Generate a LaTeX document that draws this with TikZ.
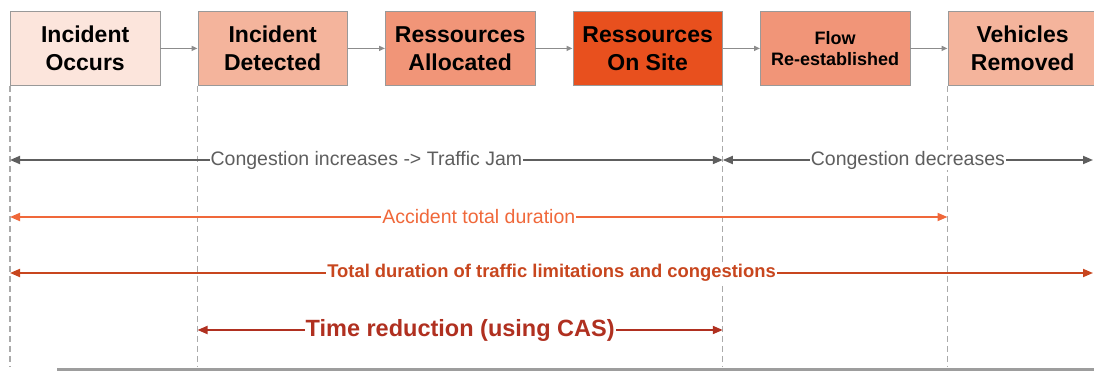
\documentclass[tikz,border=0pt]{standalone}
\usepackage{fontspec}
\setmainfont{Liberation Sans}
\usetikzlibrary{positioning,arrows.meta}

\definecolor{occfill}{HTML}{FCE5DC}
\definecolor{detfill}{HTML}{F4B49C}
\definecolor{allfill}{HTML}{F19578}
\definecolor{sitefill}{HTML}{E8501E}
\definecolor{boxline}{HTML}{999999}
\definecolor{linkgray}{HTML}{8C8C8C}
\definecolor{dashgray}{HTML}{AAAAAA}
\definecolor{congray}{HTML}{5E5E5E}
\definecolor{accorange}{HTML}{F0683A}
\definecolor{totred}{HTML}{C8461E}
\definecolor{redred}{HTML}{B03020}

\tikzset{
  stage/.style={draw=boxline, line width=.8pt, minimum width=149.5pt,
    minimum height=74pt, inner sep=0pt, align=center,
    font=\fontsize{23}{28}\selectfont\bfseries},
  link/.style={draw=linkgray, line width=1.4pt,
    -{Triangle[length=6pt,width=5pt]}},
  guide/.style={draw=dashgray, line width=1.3pt, dash pattern=on 6pt off 4pt},
  span/.style={line width=1.8pt,
    {Triangle[length=10pt,width=8pt]}-{Triangle[length=10pt,width=8pt]}},
  spantext/.style={fill=white, inner sep=1pt}
}

\begin{document}
\begin{tikzpicture}[x=1pt,y=-1pt,node distance=37.2pt]
\useasboundingbox (0,0) rectangle (1094,371);

% the six stages
\node (occ) [stage,fill=occfill,anchor=north west] at (10,11) {Incident\\Occurs};
\node (det) [stage,fill=detfill,right=of occ] {Incident\\Detected};
\node (all) [stage,fill=allfill,right=of det] {Ressources\\Allocated};
\node (site) [stage,fill=sitefill,right=of all] {Ressources\\On Site};
\node (flow) [stage,fill=allfill,right=of site,
  font=\fontsize{18}{21}\selectfont\bfseries] {Flow\\Re-established};
\node (veh) [stage,fill=detfill,right=of flow] {Vehicles\\Removed};

\draw[link] (occ) -- (det);
\draw[link] (det) -- (all);
\draw[link] (all) -- (site);
\draw[link] (site) -- (flow);
\draw[link] (flow) -- (veh);

% rows and guide ends
\coordinate (congrow) at (0,160);
\coordinate (accrow) at (0,217);
\coordinate (totrow) at (0,273);
\coordinate (redrow) at (0,330);
\coordinate (foot) at (0,366);
\coordinate (edge) at (1093,0);

\draw[guide] (occ.south west) -- (occ.south west |- foot);
\draw[guide] (det.south west) -- (det.south west |- foot);
\draw[guide] (site.south east) -- (site.south east |- foot);
\draw[guide] (veh.south west) -- (veh.south west |- foot);

% durations
\draw[span,congray] (occ.south west |- congrow) -- (site.south east |- congrow)
  node [spantext,midway,font=\fontsize{19.5}{22}\selectfont] {Congestion increases -> Traffic Jam};
\draw[span,congray] (site.south east |- congrow) -- (edge |- congrow)
  node [spantext,midway,font=\fontsize{19.5}{22}\selectfont] {Congestion decreases};
\draw[span,accorange] (occ.south west |- accrow) -- (veh.south west |- accrow)
  node [spantext,midway,font=\fontsize{19.5}{22}\selectfont] {Accident total duration};
\draw[span,totred] (occ.south west |- totrow) -- (edge |- totrow)
  node [spantext,midway,font=\fontsize{18.4}{22}\selectfont\bfseries] {Total duration of traffic limitations and congestions};
\draw[span,redred] (det.south west |- redrow) -- (site.south east |- redrow)
  node [spantext,midway,font=\fontsize{23.5}{26}\selectfont\bfseries] {Time reduction (using CAS)};

\draw[linkgray!85,line width=3pt] (57,369) -- (1094,369);
\end{tikzpicture}
\end{document}
